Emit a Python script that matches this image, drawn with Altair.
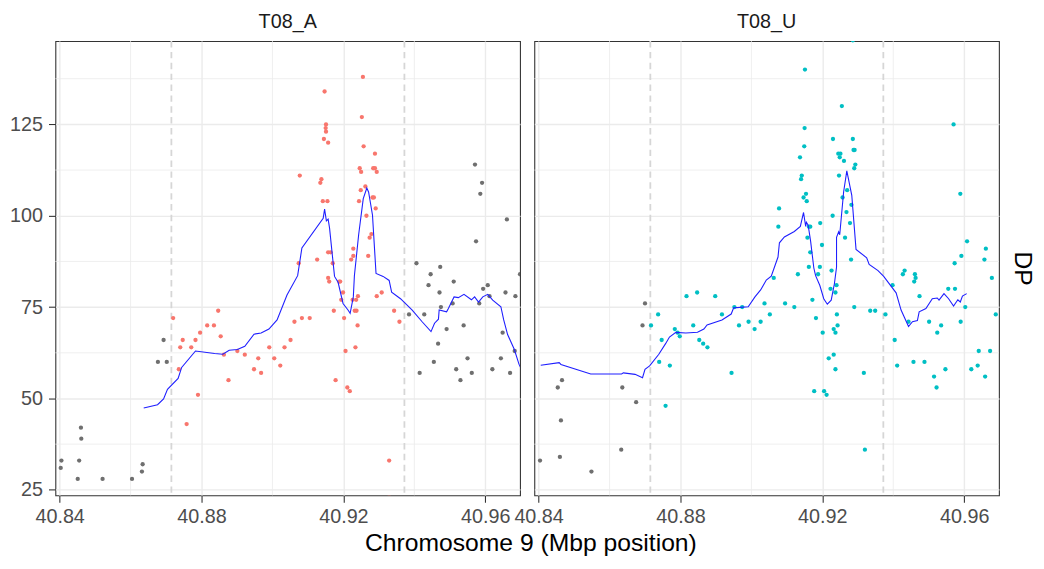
import altair as alt
import pandas as pd

FONT = "Liberation Sans"
RED, TEAL, GREY = "#F8766D", "#00BFC4", "#6f6f6f"

# ---- data (Mbp position, DP) ----
a_out_x = [40.8405, 40.8403, 40.8460, 40.8461, 40.8455, 40.8451, 40.8521, 40.8604, 40.8632, 40.8634,
           40.8677, 40.8702, 40.8693,
           40.9385, 40.9428, 40.9446, 40.9440, 40.9471, 40.9475, 40.9511, 40.9508, 40.9491, 40.9467,
           40.9455, 40.9415, 40.9518, 40.9530, 40.9550, 40.9562, 40.9539, 40.9583, 40.9594, 40.9607,
           40.9612, 40.9649, 40.9657, 40.9683, 40.9685, 40.9644, 40.9620, 40.9670, 40.9698,
           40.9571, 40.9591, 40.9586, 40.9661, 40.9574, 40.9406, 40.9473]
a_out_y = [33, 31, 42, 39, 33, 28, 28, 28, 30, 32,
           60, 60, 66,
           73, 73, 84, 81, 79, 75, 82, 76, 69, 65,
           60, 57, 58, 55, 61, 57, 70, 76, 80, 81,
           78, 68, 79, 63, 78, 61, 58, 57, 84,
           114, 109, 106, 99, 93, 87, 86]

a_in_x = [40.8720, 40.8740, 40.8747, 40.8736, 40.8758, 40.8771, 40.8783, 40.8796, 40.8790, 40.8816,
          40.8835, 40.8847, 40.8854, 40.8863, 40.8876, 40.8901, 40.8922, 40.8948, 40.8960, 40.8968,
          40.8991, 40.9005, 40.9022, 40.9034,
          40.9051, 40.9062, 40.9083, 40.9105, 40.9157, 40.9160, 40.9188, 40.9191, 40.9199, 40.9173,
          40.9194, 40.9202, 40.9206, 40.9178, 40.9211, 40.9218, 40.9226, 40.9236, 40.9241, 40.9232,
          40.9237, 40.9240, 40.9234, 40.9294, 40.9308, 40.9343, 40.9358, 40.9329, 40.9329,
          40.9077, 40.9147, 40.9151, 40.9150, 40.9151, 40.9145, 40.9157, 40.9138, 40.9135, 40.9142,
          40.9155, 40.9157, 40.9164, 40.9126, 40.9074, 40.9170, 40.9255, 40.9252, 40.9257, 40.9289,
          40.9246, 40.9250, 40.9284, 40.9289, 40.9294, 40.9262, 40.9249, 40.9282, 40.9286, 40.9244,
          40.9291, 40.9265, 40.9279, 40.9274, 40.9228, 40.9222, 40.9228, 40.9270]
a_in_y = [72, 64, 66, 58, 43, 64, 66, 68, 51, 70,
          70, 74, 67, 62, 55, 63, 62, 58, 61, 57,
          64, 61, 59, 64,
          66, 71, 72, 72, 83, 82, 82, 82, 79, 74,
          77, 72, 63, 55, 53, 52, 77, 77, 78, 74,
          74, 70, 64, 78, 79, 74, 71, 33, 23,
          111, 134, 125, 124, 123, 121, 120, 110, 109, 104,
          104, 90, 90, 88, 87, 87, 138, 127, 119, 117,
          113, 112, 113, 113, 112, 108, 107, 105, 105, 104,
          102, 100, 95, 94, 91, 88, 89, 89]

u_out_x = [40.8404, 40.8460, 40.8463, 40.8454, 40.8466, 40.8549, 40.8633, 40.8636, 40.8675, 40.8693, 40.8700]
u_out_y = [33, 34, 44, 53, 55, 30, 36, 53, 49, 70, 76]

u_in_x = [40.8717, 40.8737, 40.8747, 40.8740, 40.8770, 40.8758, 40.8784, 40.8792, 40.8798, 40.8817,
          40.8847, 40.8836, 40.8853, 40.8864, 40.8876, 40.8898, 40.8917, 40.8944, 40.8952, 40.8974,
          40.8965, 40.8992, 40.9009, 40.9026, 40.9037, 40.9052,
          40.9063, 40.9095, 40.9121, 40.9131, 40.9172, 40.9182, 40.9188, 40.9226, 40.9201, 40.9223,
          40.9240, 40.9237, 40.9241, 40.9243, 40.9232, 40.9237, 40.9218, 40.9232, 40.9237, 40.9177,
          40.9205, 40.9212, 40.9290, 40.9317, 40.9320, 40.9335, 40.9349, 40.9378, 40.9398, 40.9404,
          40.9411, 40.9427, 40.9432, 40.9443, 40.9457, 40.9461, 40.9463, 40.9459, 40.9474, 40.9488,
          40.9501, 40.9524, 40.9535, 40.9515, 40.9522, 40.9547, 40.9555, 40.9574, 40.9590, 40.9603,
          40.9620, 40.9638, 40.9641, 40.9659, 40.9673, 40.9678, 40.9689,
          40.9286, 40.9151, 40.9255, 40.9570, 40.9150, 40.9149, 40.9137, 40.9142, 40.9140, 40.9154,
          40.9147, 40.9156, 40.9078, 40.9076, 40.9162, 40.9166, 40.9158, 40.9194, 40.9166, 40.9199,
          40.9162, 40.9193, 40.9230, 40.9286, 40.9291, 40.9288, 40.9251, 40.9245, 40.9249, 40.9261,
          40.9293, 40.9290, 40.9247, 40.9270, 40.9257, 40.9282, 40.9268, 40.9229, 40.9278, 40.9264,
          40.9281, 40.9589, 40.9608, 40.9592, 40.9573, 40.9661, 40.9657]
u_in_y = [70, 73, 66, 60, 59, 48, 69, 68, 67, 78,
          79, 70, 66, 65, 64, 78, 73, 57, 75, 75,
          70, 71, 69, 71, 76, 73,
          83, 76, 75, 84, 77, 72, 84, 85, 68, 80,
          81, 79, 73, 70, 69, 68, 61, 62, 58, 52,
          52, 51, 75, 57, 36, 74, 74, 73, 81, 66,
          59, 84, 85, 71, 60, 84, 83, 82, 78, 60,
          71, 68, 70, 56, 53, 58, 80, 80, 71, 75,
          58, 59, 63, 56, 63, 83, 73,
          148, 140, 130, 125, 124, 119, 116, 111, 110, 106,
          105, 104, 102, 97, 97, 97, 94, 98, 90, 92,
          86, 86, 121, 121, 118, 118, 117, 117, 116, 115,
          114, 113, 111, 107, 105, 103, 101, 100, 98, 94,
          88, 106, 93, 89, 87, 91, 88]

# smoothed trend lines
a_line_x = [40.8637, 40.8676, 40.8693, 40.8704, 40.8734, 40.8744, 40.8783, 40.8837, 40.8860, 40.8878,
            40.8901, 40.8922, 40.8948, 40.8968, 40.8990, 40.9013, 40.9041, 40.9071, 40.9083, 40.9143,
            40.9147, 40.9152, 40.9157, 40.9161, 40.9175, 40.9185, 40.9199, 40.9213, 40.9219, 40.9228,
            40.9231, 40.9243, 40.9256, 40.9266, 40.9271, 40.9282, 40.9292, 40.9312, 40.9329, 40.9336,
            40.9361, 40.9394, 40.9422, 40.9447, 40.9457, 40.9468, 40.9470, 40.9491, 40.9496, 40.9512,
            40.9524, 40.9540, 40.9561, 40.9570, 40.9581, 40.9593, 40.9607, 40.9621, 40.9644, 40.9652,
            40.9663, 40.9682, 40.9695, 40.9702]
a_line_y = [47.4, 48.3, 49.9, 52.5, 55.5, 58.5, 63.0, 62.3, 62.1, 63.2,
            63.4, 64.3, 67.6, 67.9, 69.0, 71.5, 78.3, 83.6, 91.2, 99.3,
            101.8, 98.6, 99.1, 96.6, 83.4, 81.8, 76.0, 74.2, 73.3, 77.8,
            83.6, 94.8, 104.7, 107.6, 106.5, 100.2, 84.2, 83.4, 82.3, 79.1,
            77.3, 74.2, 71.0, 68.3, 70.6, 71.7, 74.2, 73.7, 74.6, 77.8,
            77.6, 78.5, 77.0, 77.8, 76.4, 77.8, 78.5, 76.9, 75.1, 71.5,
            67.5, 63.4, 59.4, 58.0]

u_line_x = [40.8406, 40.8458, 40.8463, 40.8547, 40.8634, 40.8639, 40.8672, 40.8693, 40.8700, 40.8713,
            40.8739, 40.8758, 40.8769, 40.8787, 40.8815, 40.8848, 40.8866, 40.8875, 40.8917, 40.8943,
            40.8950, 40.8991, 40.9010, 40.9026, 40.9042, 40.9056, 40.9075, 40.9079, 40.9093, 40.9121,
            40.9138, 40.9147, 40.9153, 40.9155, 40.9160, 40.9167, 40.9176, 40.9181, 40.9193, 40.9204,
            40.9214, 40.9225, 40.9234, 40.9240, 40.9240, 40.9246, 40.9249, 40.9260, 40.9269, 40.9283,
            40.9295, 40.9325, 40.9332, 40.9357, 40.9373, 40.9408, 40.9422, 40.9443, 40.9454, 40.9468,
            40.9473, 40.9492, 40.9510, 40.9524, 40.9529, 40.9543, 40.9556, 40.9570, 40.9582, 40.9589,
            40.9595, 40.9607]
u_line_y = [59.1, 59.8, 59.3, 56.7, 56.7, 57.0, 56.6, 55.7, 58.0, 58.9,
            62.1, 65.0, 66.8, 68.1, 67.9, 68.1, 69.0, 70.1, 71.5, 73.1,
            74.8, 75.1, 77.8, 79.7, 82.4, 83.5, 88.7, 92.6, 94.2, 95.7,
            97.1, 100.9, 97.1, 98.2, 97.4, 93.0, 85.7, 83.6, 80.9, 77.3,
            75.8, 76.9, 81.4, 85.9, 94.1, 95.6, 94.8, 106.5, 112.3, 105.6,
            90.8, 88.5, 86.7, 85.0, 83.4, 78.9, 74.2, 69.7, 71.0, 71.3,
            73.7, 74.6, 77.3, 77.5, 76.9, 78.7, 77.3, 75.3, 77.0, 76.4,
            78.0, 78.7]

region_bounds = [40.8715, 40.9372]
x_ticks = [40.84, 40.88, 40.92, 40.96]
y_ticks = [25, 50, 75, 100, 125]
x_minor = [40.86, 40.90, 40.94]
y_minor = [37.5, 62.5, 87.5, 112.5, 137.5]
x_title = "Chromosome 9 (Mbp position)"

X_DOMAIN = [40.8388, 40.9698]
Y_DOMAIN = [23.5, 147.8]
W, H = 470.5, 460


def panel(name, in_x, in_y, out_x, out_y, lx, ly, grp, left):
    pts = pd.DataFrame({
        "x": list(out_x) + list(in_x),
        "y": list(out_y) + list(in_y),
        "grp": ["out"] * len(out_x) + [grp] * len(in_x),
    })
    line = pd.DataFrame({"x": lx, "y": ly, "i": list(range(len(lx)))})
    xs = alt.Scale(domain=X_DOMAIN, nice=False, zero=False)
    ys = alt.Scale(domain=Y_DOMAIN, nice=False, zero=False)

    if left:
        xaxis = alt.Axis(values=x_ticks, format=".2f", labelFlush=False, grid=True,
                         labelOverlap=False, labelPadding=5,
                         titleFont=FONT, titleFontSize=25, titleFontWeight="normal",
                         titleColor="#000000", titleAlign="center", titleBaseline="alphabetic",
                         titleX=481, titleY=56)
        xtitle = x_title
        yaxis = alt.Axis(values=y_ticks, orient="left", grid=True, labelPadding=6)
        ytitle = None
    else:
        xaxis = alt.Axis(values=x_ticks, format=".2f", labelFlush=False, grid=True,
                         labelOverlap=False, labelPadding=5)
        xtitle = None
        yaxis = alt.Axis(values=y_ticks, orient="right", grid=True, labels=False,
                         ticks=False, titleAngle=90, titleFontSize=25,
                         titleFont=FONT, titleFontWeight="normal", titleColor="#000000",
                         titlePadding=11, titleBaseline="bottom", minExtent=0, maxExtent=0)
        ytitle = "DP"

    X = lambda: alt.X("x:Q", scale=xs, axis=xaxis, title=xtitle)
    Y = lambda: alt.Y("y:Q", scale=ys, axis=yaxis, title=ytitle)

    vminor = alt.Chart(pd.DataFrame({"x": x_minor})).mark_rule(
        color="#ebebeb", strokeWidth=0.8).encode(x=X())
    hminor = alt.Chart(pd.DataFrame({"y": y_minor})).mark_rule(
        color="#ebebeb", strokeWidth=0.8).encode(y=Y())
    dashed = alt.Chart(pd.DataFrame({"x": region_bounds})).mark_rule(
        color="#d6d6d6", strokeWidth=1.8, strokeDash=[6.5, 4.5]).encode(x=X())
    points = alt.Chart(pts).mark_circle(size=19, opacity=1, clip=True).encode(
        x=X(), y=Y(),
        color=alt.Color("grp:N", scale=alt.Scale(domain=["A", "U", "out"],
                                                   range=[RED, TEAL, GREY]), legend=None),
    )
    trend = alt.Chart(line).mark_line(color="#1f1fff", strokeWidth=1.1, clip=True).encode(
        x=X(), y=Y(), order="i:Q",
    )
    return alt.layer(vminor, hminor, dashed, points, trend).properties(
        width=W, height=H,
        title=alt.TitleParams(name, fontSize=20, fontWeight="normal", color="#1a1a1a",
                              font=FONT, anchor="middle", offset=8),
    )


left = panel("T08_A", a_in_x, a_in_y, a_out_x, a_out_y, a_line_x, a_line_y, "A", True)
right = panel("T08_U", u_in_x, u_in_y, u_out_x, u_out_y, u_line_x, u_line_y, "U", False)

chart = alt.hconcat(left, right, spacing=14, bounds="flush").properties(
    padding={"left": 1, "top": 0, "right": 0, "bottom": 0},
    background="white",
).configure_view(
    stroke="#333333", strokeWidth=1.1,
).configure_axis(
    labelFont=FONT, labelFontSize=20, labelColor="#4d4d4d",
    tickColor="#333333", tickSize=7, tickWidth=1.1,
    domain=False, gridColor="#ebebeb", gridWidth=1.4,
)

chart.save("out.html", embed_options={"renderer": "svg", "actions": False})
